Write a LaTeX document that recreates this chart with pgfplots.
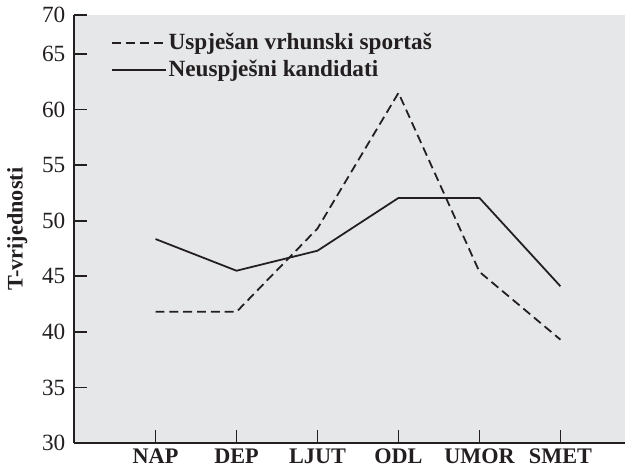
\documentclass[border=0pt]{standalone}
\usepackage{pgfplots}
\pgfplotsset{compat=1.18}
\usepackage{fontspec}
\setmainfont{Liberation Serif}
\definecolor{bggray}{rgb}{0.902,0.906,0.914}
\definecolor{ink}{rgb}{0.137,0.122,0.125}
\begin{document}
\fontsize{22}{25}\selectfont
\begin{tikzpicture}
\begin{axis}[
  scale only axis,
  width=558pt, height=433pt,
  xmin=-1.01, xmax=5.8,
  ymin=30, ymax=68.5,
  axis x line*=bottom, axis y line*=left,
  axis line style={ink, line width=1.6pt},
  axis background/.style={fill=bggray},
  tick align=inside,
  major tick length=13pt,
  tick style={ink, line width=1.6pt},
  xtick={0,1,2,3,4,5},
  xticklabels={NAP,DEP,LJUT,ODL,UMOR,SMET},
  x tick label style={font=\fontsize{22.5}{25}\selectfont\bfseries, text=ink, yshift=2pt},
  ytick={30,35,40,45,50,55,60,65,68.5},
  yticklabels={30,35,40,45,50,55,60,65,70},
  y tick label style={font=\fontsize{23.5}{25}\selectfont, text=ink, xshift=-1pt},
  /pgf/number format/assume math mode=true,
  ylabel={T-vrijednosti},
  every axis y label/.style={at={(ticklabel cs:0.5)}, rotate=90, anchor=south,
    font=\fontsize{22.5}{25}\selectfont\bfseries, text=ink},
  legend style={at={(rel axis cs:0.068,0.962)}, anchor=north west, draw=none, fill=none,
    font=\fontsize{23.5}{25}\selectfont\bfseries, text=ink, row sep=3pt, inner sep=0pt},
  legend cell align=left,
  legend image code/.code={\draw[#1] (0pt,0pt) -- (54pt,0pt);},
  /tikz/every even column/.style={column sep=8pt},
]
\addplot[ink, line width=1.8pt, dash pattern=on 9pt off 5pt] coordinates {
  (0,41.8) (1,41.8) (2,49.3) (3,61.5) (4,45.4) (5,39.3)
};
\addlegendentry{Uspješan vrhunski sportaš}
\addplot[ink, line width=1.8pt] coordinates {
  (0,48.35) (1,45.5) (2,47.3) (3,52.05) (4,52.05) (5,44.1)
};
\addlegendentry{Neuspješni kandidati}
\end{axis}
\end{tikzpicture}
\end{document}
